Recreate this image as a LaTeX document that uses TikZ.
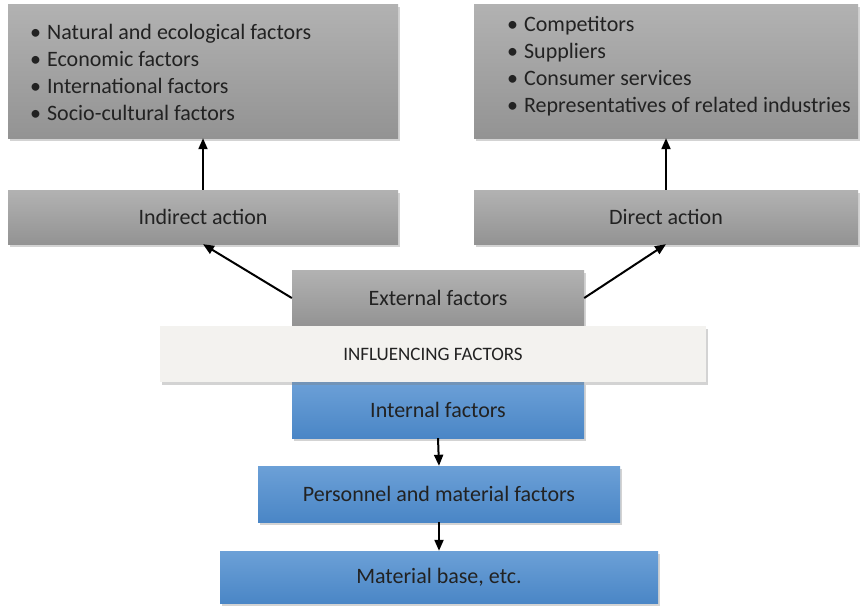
\documentclass[tikz,border=0pt]{standalone}
\usepackage{fontspec}
\setmainfont{Carlito}
\usetikzlibrary{shadows,arrows.meta}
\definecolor{graytop}{HTML}{B2B2B2}
\definecolor{graybot}{HTML}{939393}
\definecolor{bluetop}{HTML}{6CA0D7}
\definecolor{bluebot}{HTML}{4A86C6}
\definecolor{paper}{HTML}{F3F2EF}
\definecolor{ink}{HTML}{222222}

\begin{document}
\begin{tikzpicture}[x=1pt,y=-1pt,
  box/.style={inner sep=0pt,text=ink,font=\fontsize{22}{26}\selectfont,
    drop shadow={opacity=0.35,shadow xshift=1.5pt,shadow yshift=-2.5pt}},
  graybox/.style={box,top color=graytop,bottom color=graybot},
  bluebox/.style={box,top color=bluetop,bottom color=bluebot},
  list/.style={align=left,text=ink,inner sep=0pt,font=\fontsize{22}{27}\selectfont},
  arr/.style={line width=2pt,-{Triangle[length=11pt,width=9pt]}}]
\useasboundingbox (0,0) rectangle (861,608);
% outer factors
\node [graybox,minimum width=390pt,minimum height=134pt] (a) at (203,71) {};
\node [graybox,minimum width=384pt,minimum height=134pt] (b) at (666,71) {};
\node [list,anchor=west] (l) at (30,72) {%
  \textbullet\hspace{6pt}Natural and ecological factors\\
  \textbullet\hspace{6pt}Economic factors\\
  \textbullet\hspace{6pt}International factors\\
  \textbullet\hspace{6pt}Socio-cultural factors};
\node [list,anchor=west] (r) at (507,66) {%
  \textbullet\hspace{6pt}Competitors\\
  \textbullet\hspace{6pt}Suppliers\\
  \textbullet\hspace{6pt}Consumer services\\
  \textbullet\hspace{6pt}Representatives of related industries};
\node [graybox,minimum width=390pt,minimum height=54pt] (c) at (203,217) {Indirect action};
\node [graybox,minimum width=384pt,minimum height=54pt] (d) at (666,217) {Direct action};
% middle
\node [graybox,minimum width=292pt,minimum height=56pt] (e) at (438,298) {External factors};
\node [bluebox,minimum width=292pt,minimum height=56pt] (f) at (438,410) {Internal factors};
\node [box,fill=paper,minimum width=546pt,minimum height=56pt,
  font=\fontsize{19}{22}\selectfont] (x) at (433,354) {INFLUENCING FACTORS};
\node [bluebox,minimum width=362pt,minimum height=56pt] (g) at (439,494) {Personnel and material factors};
\node [bluebox,minimum width=438pt,minimum height=52pt] (h) at (439,577) {Material base, etc.};
% arrows
\draw [arr] (c.north) -- (a.south);
\draw [arr] (d.north) -- (b.south);
\draw [arr] (e.west) -- (c.south);
\draw [arr] (e.east) -- (d.south);
\draw [arr] (f.south) -- (g.north);
\draw [arr] (g.south) -- (h.north);
\end{tikzpicture}
\end{document}
